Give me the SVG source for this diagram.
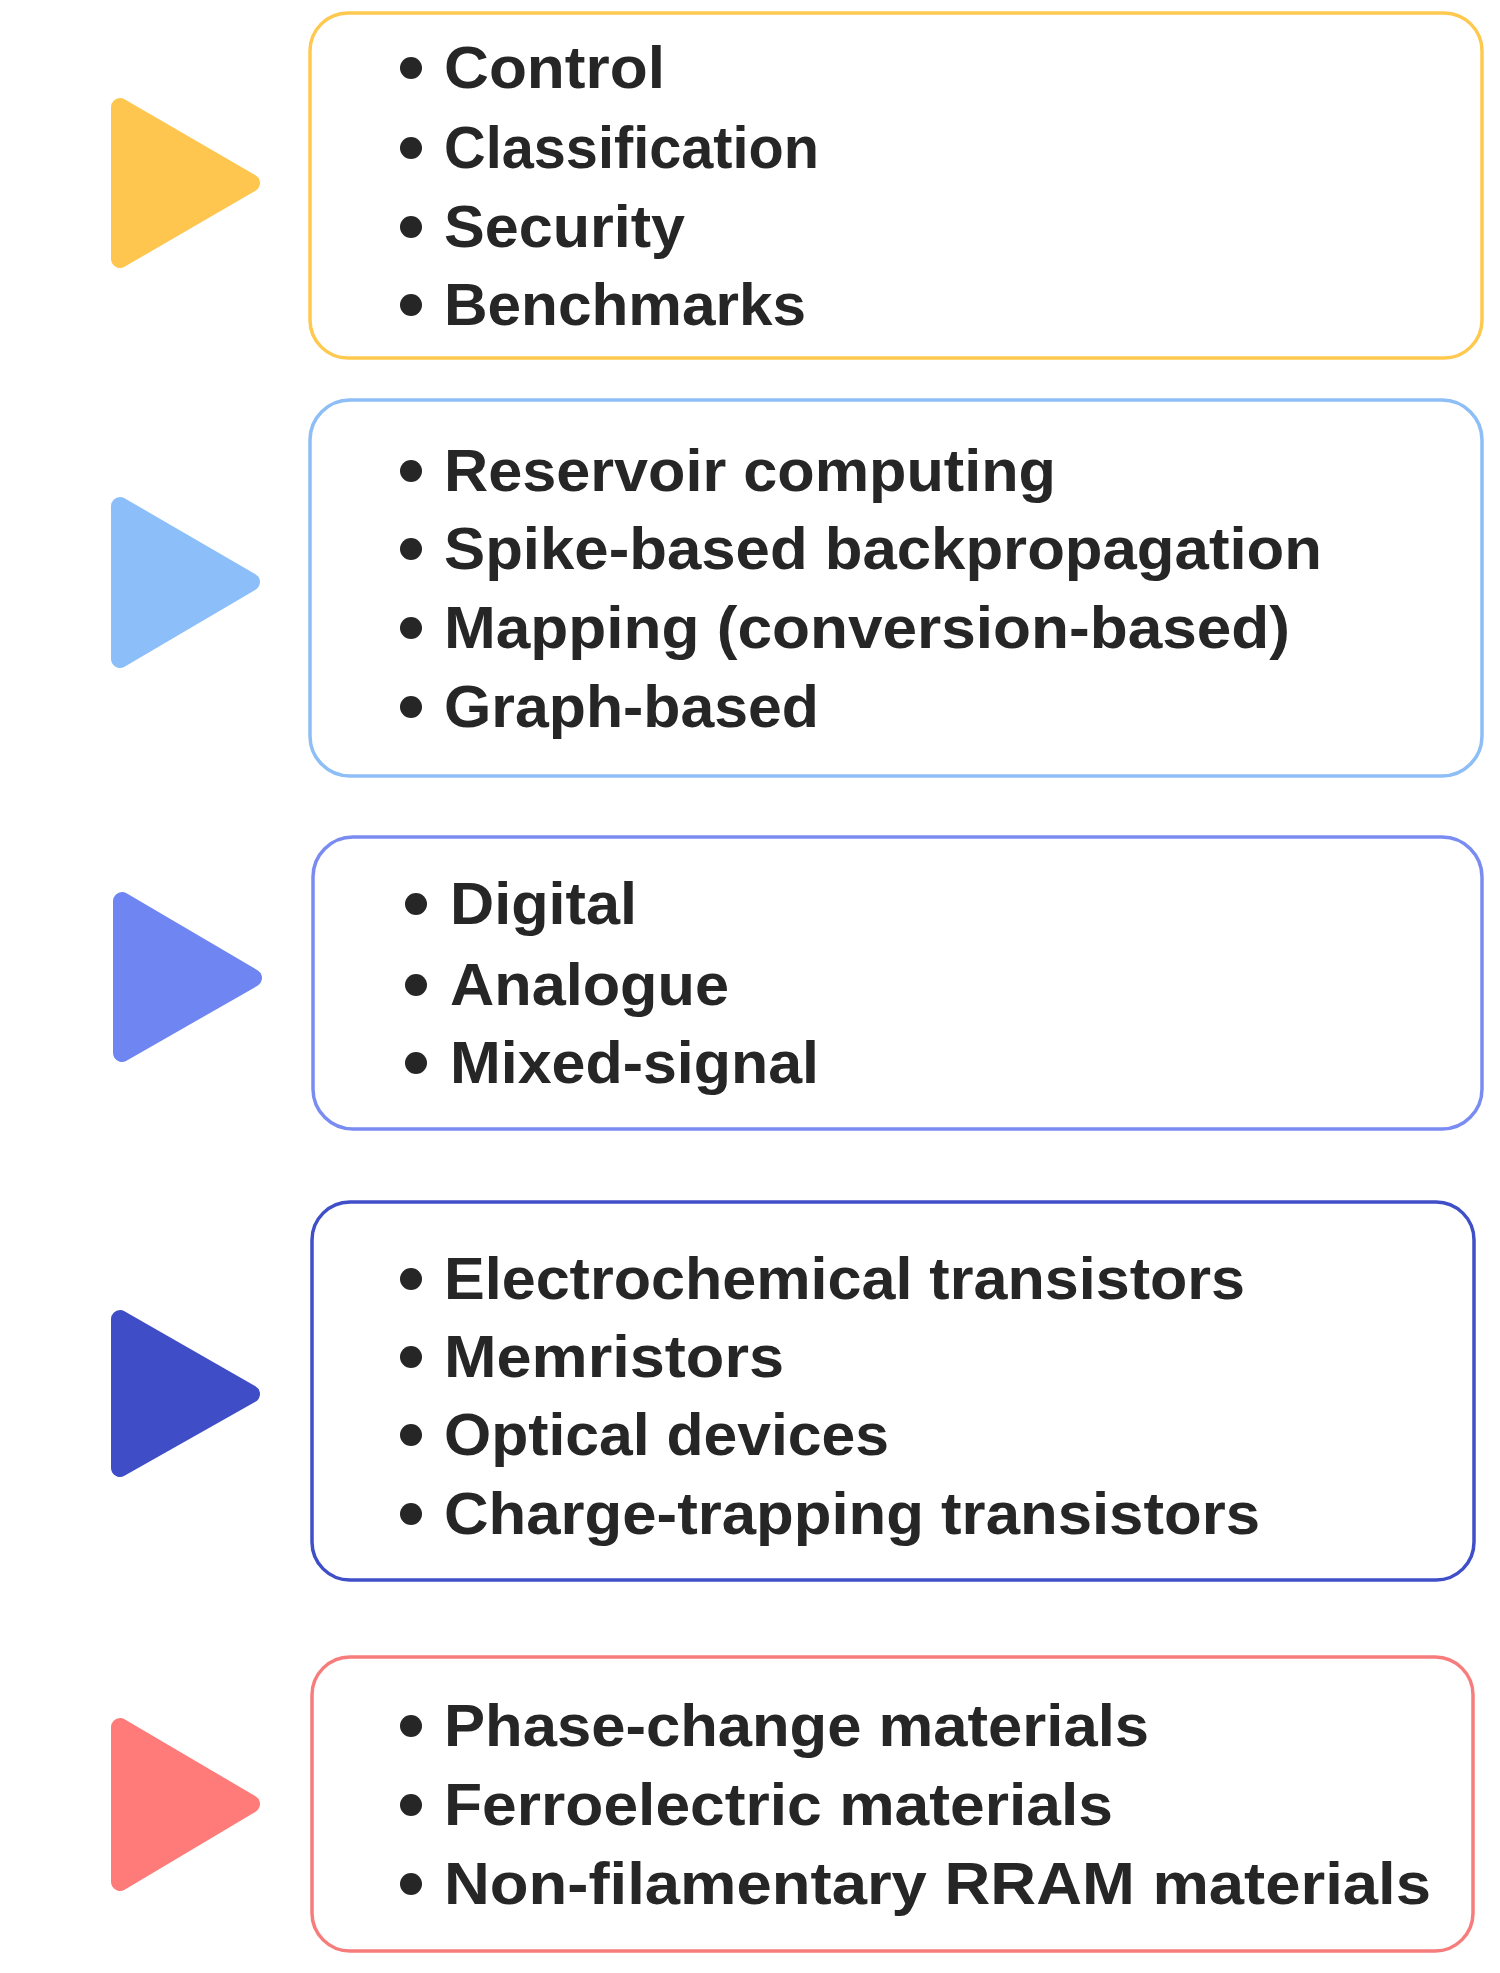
<svg xmlns="http://www.w3.org/2000/svg" width="1500" height="1973" viewBox="0 0 1500 1973">
<style>
.box{fill:#ffffff;stroke-width:3.5}
.tri{stroke-width:18;stroke-linejoin:round}
.t{font-family:"Liberation Sans",Arial,sans-serif;font-weight:bold;font-size:59px;fill:#262626}
.b{fill:#262626}
</style>
<rect width="1500" height="1973" fill="#ffffff"/>
<g id="connectors"></g>
<g id="node1">
<polygon class="tri" fill="#FFC64F" stroke="#FFC64F" points="120,107 251,183 120,259"/>
<rect class="box" x="310" y="13" width="1172" height="345" rx="38" stroke="#FFC94F"/>
<circle class="b" cx="411" cy="68" r="11"/><text class="t" x="444" y="88" textLength="221" lengthAdjust="spacingAndGlyphs">Control</text>
<circle class="b" cx="411" cy="148" r="11"/><text class="t" x="444" y="168" textLength="375" lengthAdjust="spacingAndGlyphs">Classification</text>
<circle class="b" cx="411" cy="227" r="11"/><text class="t" x="444" y="247" textLength="241" lengthAdjust="spacingAndGlyphs">Security</text>
<circle class="b" cx="411" cy="305" r="11"/><text class="t" x="444" y="325" textLength="362" lengthAdjust="spacingAndGlyphs">Benchmarks</text>
</g>
<g id="node2">
<polygon class="tri" fill="#8CBFF9" stroke="#8CBFF9" points="120,506 251,582 120,659"/>
<rect class="box" x="310" y="400" width="1172" height="376" rx="40" stroke="#8DBEF6"/>
<circle class="b" cx="411" cy="471" r="11"/><text class="t" x="444" y="491" textLength="612" lengthAdjust="spacingAndGlyphs">Reservoir computing</text>
<circle class="b" cx="411" cy="549" r="11"/><text class="t" x="444" y="569" textLength="878" lengthAdjust="spacingAndGlyphs">Spike-based backpropagation</text>
<circle class="b" cx="411" cy="628" r="11"/><text class="t" x="444" y="648" textLength="846" lengthAdjust="spacingAndGlyphs">Mapping (conversion-based)</text>
<circle class="b" cx="411" cy="707" r="11"/><text class="t" x="444" y="727" textLength="375" lengthAdjust="spacingAndGlyphs">Graph-based</text>
</g>
<g id="node3">
<polygon class="tri" fill="#6F86F2" stroke="#6F86F2" points="122,901 253,978 122,1053"/>
<rect class="box" x="313" y="837" width="1169" height="292" rx="40" stroke="#7A8CF2"/>
<circle class="b" cx="416" cy="904" r="11"/><text class="t" x="450" y="924" textLength="187" lengthAdjust="spacingAndGlyphs">Digital</text>
<circle class="b" cx="416" cy="985" r="11"/><text class="t" x="450" y="1005" textLength="279" lengthAdjust="spacingAndGlyphs">Analogue</text>
<circle class="b" cx="416" cy="1063" r="11"/><text class="t" x="450" y="1083" textLength="369" lengthAdjust="spacingAndGlyphs">Mixed-signal</text>
</g>
<g id="node4">
<polygon class="tri" fill="#3F4EC6" stroke="#3F4EC6" points="120,1319 251,1394 120,1468"/>
<rect class="box" x="312" y="1202" width="1162" height="378" rx="38" stroke="#3F4FC8"/>
<circle class="b" cx="411" cy="1279" r="11"/><text class="t" x="444" y="1299" textLength="801" lengthAdjust="spacingAndGlyphs">Electrochemical transistors</text>
<circle class="b" cx="411" cy="1357" r="11"/><text class="t" x="444" y="1377" textLength="340" lengthAdjust="spacingAndGlyphs">Memristors</text>
<circle class="b" cx="411" cy="1435" r="11"/><text class="t" x="444" y="1455" textLength="445" lengthAdjust="spacingAndGlyphs">Optical devices</text>
<circle class="b" cx="411" cy="1514" r="11"/><text class="t" x="444" y="1534" textLength="816" lengthAdjust="spacingAndGlyphs">Charge-trapping transistors</text>
</g>
<g id="node5">
<polygon class="tri" fill="#FF7B79" stroke="#FF7B79" points="120,1727 251,1804 120,1882"/>
<rect class="box" x="312" y="1657" width="1161" height="294" rx="38" stroke="#F77C7C"/>
<circle class="b" cx="411" cy="1726" r="11"/><text class="t" x="444" y="1746" textLength="705" lengthAdjust="spacingAndGlyphs">Phase-change materials</text>
<circle class="b" cx="411" cy="1805" r="11"/><text class="t" x="444" y="1825" textLength="669" lengthAdjust="spacingAndGlyphs">Ferroelectric materials</text>
<circle class="b" cx="411" cy="1884" r="11"/><text class="t" x="444" y="1904" textLength="987" lengthAdjust="spacingAndGlyphs">Non-filamentary RRAM materials</text>
</g>
</svg>
